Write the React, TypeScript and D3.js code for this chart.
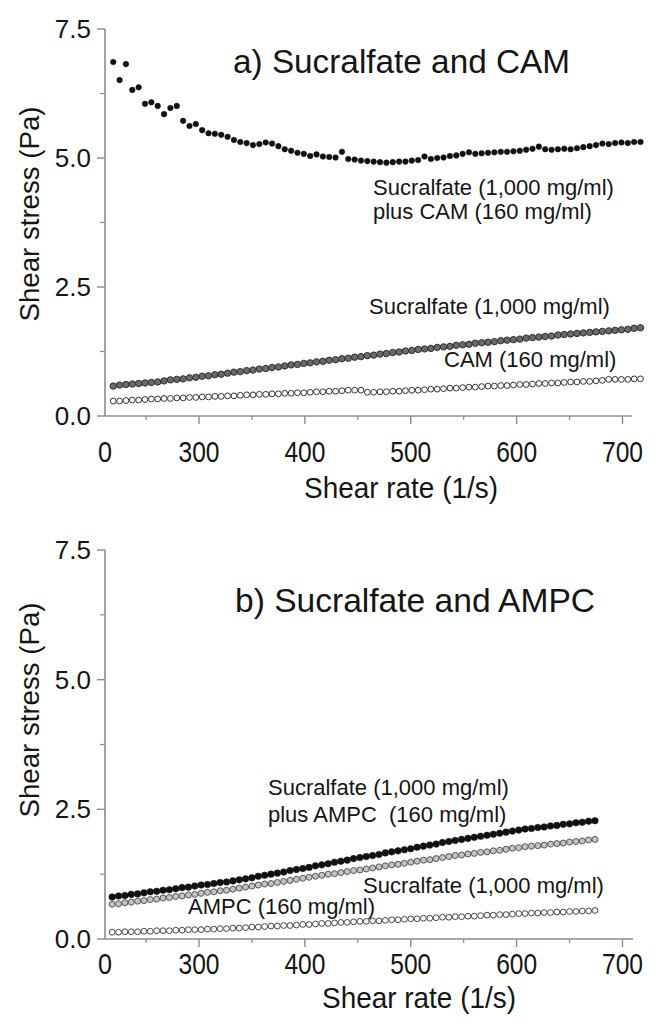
import React from "react";
import * as d3 from "d3";

// ---------- data ----------
const shearRateA = [
  219, 225, 231, 237, 243, 249, 255, 261, 267, 273, 279, 285, 291, 297, 303, 309, 315, 321, 327, 333,
  339, 345, 351, 357, 363, 369, 375, 381, 387, 393, 399, 405, 411, 417, 423, 429, 435, 441, 447, 453,
  459, 465, 471, 477, 483, 489, 495, 501, 507, 513, 519, 525, 531, 537, 543, 549, 555, 561, 567, 573,
  579, 585, 591, 597, 603, 609, 615, 621, 627, 633, 639, 645, 651, 657, 663, 669, 675, 681, 687, 693,
  699, 705, 711, 717,
];
const sucralfatePlusCamA = [
  6.86, 6.51, 6.82, 6.32, 6.37, 6.05, 6.08, 6.01, 5.85, 5.97, 6.01, 5.72, 5.62, 5.66, 5.54, 5.48, 5.47, 5.45, 5.41, 5.35,
  5.31, 5.29, 5.25, 5.27, 5.3, 5.28, 5.23, 5.17, 5.14, 5.1, 5.08, 5.04, 5.07, 5.03, 5.02, 5.01, 5.12, 4.98, 4.97, 4.95,
  4.94, 4.93, 4.92, 4.91, 4.92, 4.93, 4.93, 4.95, 4.96, 5.03, 4.98, 5.0, 5.01, 5.04, 5.05, 5.08, 5.11, 5.08, 5.09, 5.1,
  5.11, 5.12, 5.12, 5.13, 5.14, 5.16, 5.18, 5.22, 5.17, 5.16, 5.17, 5.18, 5.17, 5.19, 5.21, 5.23, 5.25, 5.28, 5.27, 5.29,
  5.3, 5.29, 5.31, 5.31,
];
const sucralfateA = [
  0.58, 0.6, 0.61, 0.62, 0.63, 0.64, 0.65, 0.66, 0.68, 0.7, 0.71, 0.72, 0.74, 0.75, 0.77, 0.78, 0.8, 0.81, 0.83, 0.85,
  0.86, 0.88, 0.89, 0.91, 0.92, 0.94, 0.95, 0.97, 0.99, 1.0, 1.02, 1.03, 1.05, 1.06, 1.08, 1.09, 1.11, 1.12, 1.14, 1.15,
  1.17, 1.18, 1.2, 1.21, 1.23, 1.24, 1.26, 1.27, 1.29, 1.3, 1.31, 1.33, 1.34, 1.35, 1.37, 1.38, 1.39, 1.41, 1.42, 1.43,
  1.44, 1.46, 1.47, 1.48, 1.49, 1.51, 1.52, 1.53, 1.54, 1.55, 1.57, 1.58, 1.59, 1.6, 1.61, 1.62, 1.63, 1.64, 1.65, 1.66,
  1.67, 1.68, 1.7, 1.71,
];
const camA = [
  0.29, 0.29, 0.3, 0.31, 0.31, 0.32, 0.33, 0.33, 0.34, 0.34, 0.35, 0.35, 0.36, 0.36, 0.37, 0.37, 0.38, 0.38, 0.39, 0.39,
  0.4, 0.41, 0.41, 0.42, 0.42, 0.43, 0.43, 0.44, 0.44, 0.45, 0.45, 0.46, 0.47, 0.47, 0.48, 0.48, 0.49, 0.5, 0.5, 0.5,
  0.46, 0.46, 0.47, 0.47, 0.48, 0.48, 0.49, 0.5, 0.5, 0.51, 0.52, 0.52, 0.53, 0.54, 0.54, 0.55, 0.56, 0.56, 0.57, 0.58,
  0.58, 0.59, 0.59, 0.6, 0.61, 0.61, 0.62, 0.63, 0.63, 0.64, 0.64, 0.65, 0.66, 0.66, 0.67, 0.67, 0.68, 0.69, 0.71, 0.71,
  0.71, 0.71, 0.72, 0.72,
];

const shearRateB = [
  218, 224, 230, 236, 242, 248, 254, 260, 266, 272, 278, 284, 290, 296, 302, 308, 314, 320, 326, 332,
  338, 344, 350, 356, 362, 368, 374, 380, 386, 392, 398, 404, 410, 416, 422, 428, 434, 440, 446, 452,
  458, 464, 470, 476, 482, 488, 494, 500, 506, 512, 518, 524, 530, 536, 542, 548, 554, 560, 566, 572,
  578, 584, 590, 596, 602, 608, 614, 620, 626, 632, 638, 644, 650, 656, 662, 668, 674,
];
const sucralfatePlusAmpcB = [
  0.81, 0.83, 0.84, 0.86, 0.87, 0.89, 0.91, 0.92, 0.94, 0.95, 0.97, 0.99, 1.0, 1.02, 1.04, 1.05, 1.07, 1.09, 1.1, 1.12,
  1.14, 1.16, 1.18, 1.21, 1.23, 1.25, 1.27, 1.29, 1.32, 1.34, 1.36, 1.38, 1.41, 1.43, 1.45, 1.48, 1.5, 1.52, 1.55, 1.57,
  1.59, 1.61, 1.63, 1.66, 1.68, 1.7, 1.72, 1.74, 1.77, 1.79, 1.81, 1.83, 1.86, 1.88, 1.9, 1.92, 1.94, 1.96, 1.98, 2.0,
  2.02, 2.04, 2.06, 2.08, 2.1, 2.12, 2.13, 2.15, 2.16, 2.18, 2.19, 2.21, 2.22, 2.24, 2.25, 2.27, 2.28,
];
const sucralfateB = [
  0.67, 0.68, 0.7, 0.71, 0.73, 0.74, 0.76, 0.77, 0.79, 0.8, 0.82, 0.83, 0.85, 0.86, 0.88, 0.9, 0.91, 0.93, 0.94, 0.96,
  0.98, 1.0, 1.02, 1.04, 1.06, 1.07, 1.09, 1.11, 1.13, 1.15, 1.17, 1.19, 1.21, 1.23, 1.25, 1.26, 1.28, 1.3, 1.32, 1.33,
  1.35, 1.37, 1.39, 1.41, 1.43, 1.44, 1.46, 1.48, 1.5, 1.52, 1.53, 1.55, 1.57, 1.59, 1.61, 1.62, 1.64, 1.65, 1.67, 1.68,
  1.7, 1.71, 1.73, 1.75, 1.76, 1.78, 1.79, 1.8, 1.81, 1.83, 1.84, 1.85, 1.87, 1.88, 1.89, 1.91, 1.92,
];
const ampcB = [
  0.13, 0.13, 0.14, 0.14, 0.14, 0.15, 0.15, 0.16, 0.16, 0.16, 0.17, 0.17, 0.18, 0.18, 0.18, 0.19, 0.19, 0.2, 0.2, 0.21,
  0.21, 0.22, 0.23, 0.23, 0.24, 0.25, 0.25, 0.26, 0.26, 0.27, 0.28, 0.28, 0.29, 0.3, 0.3, 0.31, 0.32, 0.32, 0.33, 0.34,
  0.34, 0.35, 0.35, 0.36, 0.37, 0.37, 0.38, 0.39, 0.39, 0.4, 0.4, 0.41, 0.42, 0.42, 0.43, 0.43, 0.44, 0.44, 0.45, 0.46,
  0.46, 0.47, 0.47, 0.48, 0.49, 0.49, 0.5, 0.5, 0.51, 0.51, 0.52, 0.52, 0.53, 0.53, 0.54, 0.54, 0.55,
];

const xMajorTicks = [300, 400, 500, 600, 700];
const xMinorTicks = [250, 350, 450, 550, 650];
const yMajorTicks = [0, 2.5, 5.0, 7.5];
const yMinorTicks = [1.25, 3.75, 6.25];
const xOriginLabel = "0";
const xTitle = "Shear rate (1/s)";
const yTitle = "Shear stress (Pa)";

// ---------- styling ----------
const FONT = "'Liberation Sans', Arial, Helvetica, sans-serif";
const AXIS = "#8c8c8c";
const INK = "#151515";

type Series = { x: number[]; y: number[]; fill: string; stroke: string; r: number; sw: number };
type Label = { text: string; x: number; y: number };

type PanelProps = {
  top: number;
  bottom: number;
  axisEnd: number;
  tickBase: number;
  titleBase: number;
  xTitleCenter: number;
  yTitleCenter: number;
  title: string;
  titleX: number;
  titleY: number;
  titleLen: number;
  series: Series[];
  labels: Label[];
};

function Panel(p: PanelProps) {
  const x = d3.scaleLinear().domain([300, 700]).range([199, 622.5]);
  const y = d3.scaleLinear().domain([0, 7.5]).range([p.bottom, p.top]);
  const x0 = 105;
  const fmt = d3.format(".1f");
  return (
    <g>
      {/* axes */}
      <line x1={x0} x2={x0} y1={y(0)} y2={y(7.5)} stroke={AXIS} strokeWidth={1.6} />
      <line x1={x0} x2={p.axisEnd} y1={y(0)} y2={y(0)} stroke={AXIS} strokeWidth={1.6} />
      {yMajorTicks.map((t) => (
        <g key={"ym" + t}>
          <line x1={x0 - 8} x2={x0} y1={y(t)} y2={y(t)} stroke={AXIS} strokeWidth={1.4} />
          <text x={91} y={y(t) + 9} textAnchor="end" fontSize={26} fill={INK} fontFamily={FONT}>
            {fmt(t)}
          </text>
        </g>
      ))}
      {yMinorTicks.map((t) => (
        <line key={"yn" + t} x1={x0 - 5} x2={x0} y1={y(t)} y2={y(t)} stroke={AXIS} strokeWidth={1.2} />
      ))}
      {xMajorTicks.map((t) => (
        <g key={"xm" + t}>
          <line x1={x(t)} x2={x(t)} y1={y(0)} y2={y(0) + 8} stroke={AXIS} strokeWidth={1.4} />
          <text
            x={x(t)}
            y={y(0) + p.tickBase}
            textAnchor="middle"
            fontSize={30}
            fill={INK}
            fontFamily={FONT}
            textLength={41}
            lengthAdjust="spacingAndGlyphs"
          >
            {String(t)}
          </text>
        </g>
      ))}
      {xMinorTicks.map((t) => (
        <line key={"xn" + t} x1={x(t)} x2={x(t)} y1={y(0)} y2={y(0) + 4} stroke={AXIS} strokeWidth={1.2} />
      ))}
      <text
        x={x0}
        y={y(0) + p.tickBase}
        textAnchor="middle"
        fontSize={30}
        fill={INK}
        fontFamily={FONT}
        textLength={14}
        lengthAdjust="spacingAndGlyphs"
      >
        {xOriginLabel}
      </text>
      <text
        x={p.xTitleCenter}
        y={y(0) + p.titleBase}
        textAnchor="middle"
        fontSize={30}
        fill={INK}
        fontFamily={FONT}
        textLength={194}
        lengthAdjust="spacingAndGlyphs"
      >
        {xTitle}
      </text>
      <text
        transform={`translate(39,${p.yTitleCenter}) rotate(-90)`}
        textAnchor="middle"
        fontSize={27}
        fill={INK}
        fontFamily={FONT}
        textLength={215}
        lengthAdjust="spacingAndGlyphs"
      >
        {yTitle}
      </text>
      {/* title */}
      <text
        x={p.titleX}
        y={p.titleY}
        fontSize={33}
        fill={INK}
        fontFamily={FONT}
        textLength={p.titleLen}
        lengthAdjust="spacingAndGlyphs"
      >
        {p.title}
      </text>
      {/* series */}
      {p.series.map((s, si) => (
        <g key={"s" + si}>
          {s.y.map((v, i) =>
            i < s.x.length ? (
              <circle
                key={i}
                cx={x(s.x[i])}
                cy={y(v)}
                r={s.r}
                fill={s.fill}
                stroke={s.stroke}
                strokeWidth={s.sw}
              />
            ) : null
          )}
        </g>
      ))}
      {/* labels */}
      {p.labels.map((l, i) => (
        <text
          key={"l" + i}
          x={l.x}
          y={l.y}
          fontSize={22}
          fill={INK}
          fontFamily={FONT}
          style={{ whiteSpace: "pre" }}
        >
          {l.text}
        </text>
      ))}
    </g>
  );
}

export default function App() {
  const seriesA: Series[] = [
    { x: shearRateA, y: camA, fill: "#ffffff", stroke: "#333", r: 2.9, sw: 1 },
    { x: shearRateA, y: sucralfateA, fill: "#6a6a6a", stroke: "#2e2e2e", r: 3.2, sw: 1 },
    { x: shearRateA, y: sucralfatePlusCamA, fill: "#111", stroke: "#111", r: 2.8, sw: 0.5 },
  ];
  const labelsA: Label[] = [
    { text: "Sucralfate (1,000 mg/ml)", x: 373, y: 195 },
    { text: "plus CAM (160 mg/ml)", x: 373, y: 219 },
    { text: "Sucralfate (1,000 mg/ml)", x: 369, y: 314 },
    { text: "CAM (160 mg/ml)", x: 444, y: 367 },
  ];
  const seriesB: Series[] = [
    { x: shearRateB, y: ampcB, fill: "#ffffff", stroke: "#444", r: 2.9, sw: 1 },
    { x: shearRateB, y: sucralfateB, fill: "#c4c4c4", stroke: "#555", r: 3, sw: 1 },
    { x: shearRateB, y: sucralfatePlusAmpcB, fill: "#111", stroke: "#111", r: 3.3, sw: 0.5 },
  ];
  const labelsB: Label[] = [
    { text: "Sucralfate (1,000 mg/ml)", x: 268, y: 795 },
    { text: "plus AMPC  (160 mg/ml)", x: 268, y: 822 },
    { text: "Sucralfate (1,000 mg/ml)", x: 363, y: 893 },
    { text: "AMPC (160 mg/ml)", x: 188, y: 914 },
  ];
  return (
    <svg
      width={650}
      height={1018}
      style={{ position: "absolute", left: 0, top: 0, background: "#fff" }}
      xmlns="http://www.w3.org/2000/svg"
    >
      <rect width={650} height={1018} fill="#fff" />
      <Panel
        top={29}
        bottom={416}
        axisEnd={632}
        tickBase={46}
        titleBase={82}
        xTitleCenter={401}
        yTitleCenter={214}
        title="a) Sucralfate and CAM"
        titleX={233}
        titleY={73}
        titleLen={337}
        series={seriesA}
        labels={labelsA}
      />
      <Panel
        top={550}
        bottom={939}
        axisEnd={633}
        tickBase={35}
        titleBase={69}
        xTitleCenter={419}
        yTitleCenter={710}
        title="b) Sucralfate and AMPC"
        titleX={235}
        titleY={612}
        titleLen={360}
        series={seriesB}
        labels={labelsB}
      />
    </svg>
  );
}
